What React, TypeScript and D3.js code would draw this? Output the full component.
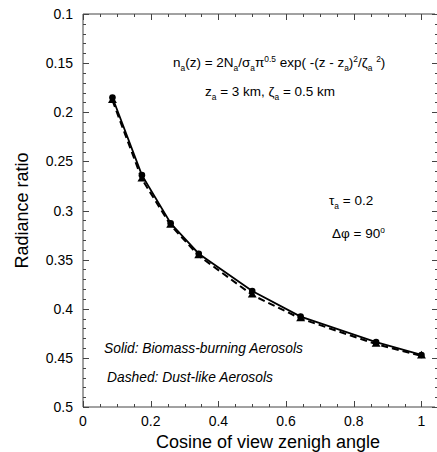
import React, { useEffect, useRef } from 'react';
import * as d3 from 'd3';

// cosine of view zenith angle (85, 80, 75, 70, 60, 50, 30, 0 deg)
const cosView = [0.087, 0.174, 0.259, 0.342, 0.5, 0.643, 0.866, 1.0];
const biomass = [0.185, 0.264, 0.313, 0.344, 0.382, 0.408, 0.434, 0.447];
const dust = [0.188, 0.268, 0.315, 0.346, 0.386, 0.41, 0.436, 0.448];

const xTicks = [0, 0.2, 0.4, 0.6, 0.8, 1];
const yTicks = [0.1, 0.15, 0.2, 0.25, 0.3, 0.35, 0.4, 0.45, 0.5];

const FONT = '"Liberation Sans", Arial, Helvetica, sans-serif';

// segments: [text, kind] where kind is '' | 'sub' | 'sup'
const richText = (g, x, y, segs, size, italic = false) => {
  const t = g.append('text')
    .attr('x', x)
    .attr('y', y)
    .attr('font-size', size)
    .attr('font-family', FONT)
    .attr('font-style', italic ? 'italic' : 'normal')
    .attr('fill', '#000');
  let shift = 0;
  segs.forEach(([s, kind]) => {
    const target = kind === 'sub' ? 4 : kind === 'sup' ? -5 : 0;
    t.append('tspan')
      .attr('dy', target - shift)
      .attr('font-size', kind ? size * 0.62 : size)
      .attr('xml:space', 'preserve')
      .text(s);
    shift = target;
  });
};

const App = () => {
  const ref = useRef(null);

  useEffect(() => {
    d3.select(ref.current).selectAll('*').remove();

    const width = 437;
    const height = 452;
    const left = 83;
    const right = 435;
    const top = 14;
    const bottom = 407;

    const svg = d3.select(ref.current)
      .append('svg')
      .attr('width', width)
      .attr('height', height)
      .style('position', 'absolute')
      .style('left', 0)
      .style('top', 0)
      .style('background', '#fff');

    const x = d3.scaleLinear().domain([0, 1.04]).range([left, right]);
    const y = d3.scaleLinear().domain([0.1, 0.5]).range([top, bottom]);

    const axisColor = '#444';
    const ax = svg.append('g').attr('stroke', axisColor).attr('stroke-width', 1);

    // frame lines (left, bottom, top); right side only has ticks
    ax.append('line').attr('x1', left).attr('x2', left).attr('y1', top).attr('y2', bottom);
    ax.append('line').attr('x1', left).attr('x2', right).attr('y1', bottom).attr('y2', bottom);
    ax.append('line').attr('x1', left).attr('x2', right).attr('y1', top).attr('y2', top);

    // y ticks every 0.01, major every 0.05
    d3.range(0, 41).forEach(i => {
      const v = 0.1 + i * 0.01;
      const major = i % 5 === 0;
      const yy = Math.round(y(v)) + 0.5;
      ax.append('line').attr('x1', left).attr('x2', left + (major ? 6 : 3)).attr('y1', yy).attr('y2', yy);
      ax.append('line').attr('x1', width).attr('x2', width - (major ? 5 : 2)).attr('y1', yy).attr('y2', yy);
    });

    // x ticks every 0.05, major every 0.2
    d3.range(0, 21).forEach(i => {
      const v = i * 0.05;
      const major = i % 4 === 0;
      const xx = Math.round(x(v)) + 0.5;
      ax.append('line').attr('x1', xx).attr('x2', xx).attr('y1', bottom).attr('y2', bottom - (major ? 6 : 3));
      ax.append('line').attr('x1', xx).attr('x2', xx).attr('y1', top).attr('y2', top + (major ? 6 : 3));
    });

    // tick labels
    svg.append('g').selectAll('text')
      .data(yTicks)
      .enter()
      .append('text')
      .attr('x', 73)
      .attr('y', d => y(d) + 5)
      .attr('text-anchor', 'end')
      .attr('font-size', 14)
      .attr('font-family', FONT)
      .text(d => d3.format('')(d));

    svg.append('g').selectAll('text')
      .data(xTicks)
      .enter()
      .append('text')
      .attr('x', d => x(d))
      .attr('y', 426)
      .attr('text-anchor', 'middle')
      .attr('font-size', 14)
      .attr('font-family', FONT)
      .text(d => d3.format('')(d));

    // axis titles
    svg.append('text')
      .attr('x', 268)
      .attr('y', 448)
      .attr('text-anchor', 'middle')
      .attr('font-size', 18)
      .attr('font-family', FONT)
      .text('Cosine of view zenigh angle');

    svg.append('text')
      .attr('transform', `translate(28, ${(top + bottom) / 2}) rotate(-90)`)
      .attr('text-anchor', 'middle')
      .attr('font-size', 18)
      .attr('font-family', FONT)
      .text('Radiance ratio');

    // curves
    const line = d3.line()
      .x(d => x(d[0]))
      .y(d => y(d[1]));

    const solidPts = cosView.map((c, i) => [c, biomass[i]]);
    const dashPts = cosView.map((c, i) => [c, dust[i]]);

    svg.append('path')
      .datum(dashPts)
      .attr('fill', 'none')
      .attr('stroke', '#000')
      .attr('stroke-width', 2)
      .attr('stroke-dasharray', '7,4')
      .attr('d', line);

    svg.append('path')
      .datum(solidPts)
      .attr('fill', 'none')
      .attr('stroke', '#000')
      .attr('stroke-width', 1.8)
      .attr('d', line);

    svg.append('g').selectAll('path')
      .data(dashPts)
      .enter()
      .append('path')
      .attr('d', d3.symbol(d3.symbolTriangle, 34))
      .attr('transform', d => `translate(${x(d[0])}, ${y(d[1])})`)
      .attr('fill', '#000');

    svg.append('g').selectAll('circle')
      .data(solidPts)
      .enter()
      .append('circle')
      .attr('cx', d => x(d[0]))
      .attr('cy', d => y(d[1]))
      .attr('r', 3.3)
      .attr('fill', '#000');

    // annotations
    const ann = svg.append('g');
    richText(ann, 173, 67, [
      ['n', ''], ['a', 'sub'], ['(z) = 2N', ''], ['a', 'sub'], ['/\u03c3', ''], ['a', 'sub'],
      ['\u03c0', ''], ['0.5', 'sup'], [' exp( -(z - z', ''], ['a', 'sub'], [')', ''], ['2', 'sup'],
      ['/\u03b6', ''], ['a', 'sub'], [' ', ''], ['2', 'sup'], [')', ''],
    ], 13.5);
    richText(ann, 205, 96, [
      ['z', ''], ['a', 'sub'], [' = 3 km, \u03b6', ''], ['a', 'sub'], [' = 0.5 km', ''],
    ], 13.5);
    richText(ann, 329, 205, [['\u03c4', ''], ['a', 'sub'], [' = 0.2', '']], 13.5);
    richText(ann, 332, 238, [['\u0394\u03c6 = 90', ''], ['o', 'sup']], 13.5);
    richText(ann, 104, 353, [['Solid: Biomass-burning Aerosols', '']], 13.8, true);
    richText(ann, 107, 382, [['Dashed: Dust-like Aerosols', '']], 13.8, true);
  }, []);

  return <div ref={ref}></div>;
};

export default App;
